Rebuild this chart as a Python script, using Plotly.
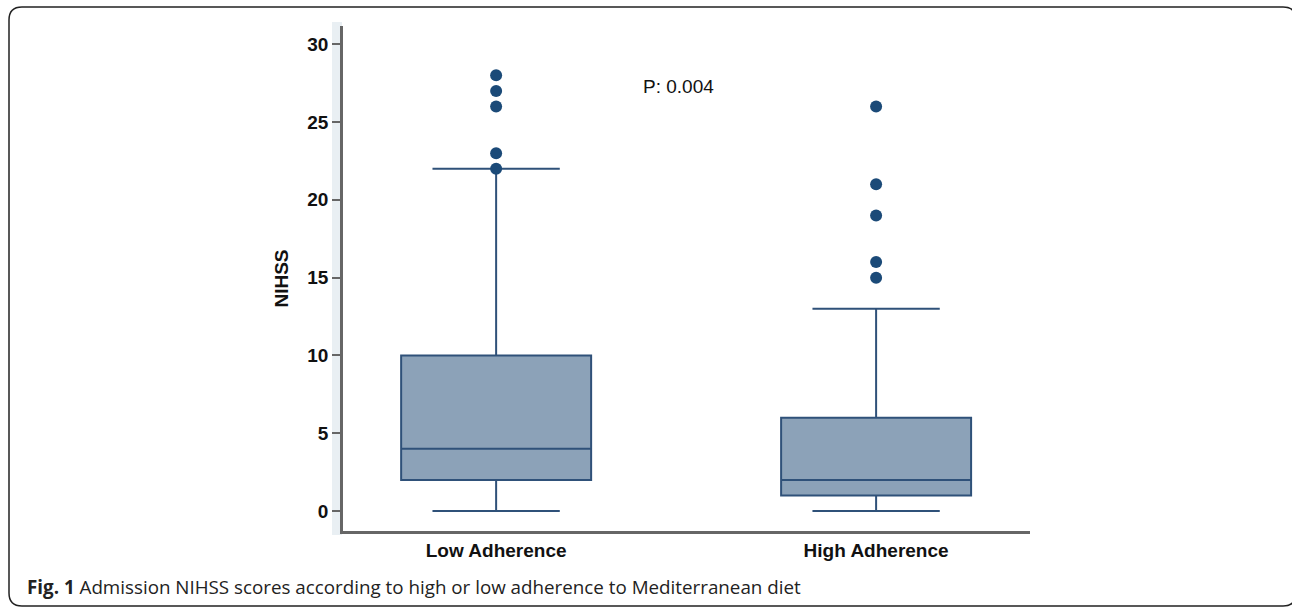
import plotly.graph_objects as go

# ---- data ----
groups = ["Low Adherence", "High Adherence"]
group_pos = [0, 1]
lower_fence = [0, 0]
q1 = [2, 1]
median = [4, 2]
q3 = [10, 6]
upper_fence = [22, 13]
outliers_low = [28, 27, 26, 23, 22]
outliers_high = [26, 21, 19, 16, 15]
y_ticks = [0, 5, 10, 15, 20, 25, 30]
p_label = "P: 0.004"
caption_bold = "Fig. 1"
caption_text = " Admission NIHSS scores according to high or low adherence to Mediterranean diet"

W, H = 1292, 607
L, R, T, B = 343, 1030, 26, 531


def px(x):
    return (x - L) / (R - L)


def py(y):
    return (B - y) / (B - T)


fig = go.Figure()
fig.add_trace(go.Box(
    x=group_pos, q1=q1, median=median, q3=q3,
    lowerfence=lower_fence, upperfence=upper_fence,
    width=0.5, whiskerwidth=0.67,
    fillcolor="rgba(120,146,172,0.85)",
    line=dict(color="#2f5179", width=2),
    boxpoints=False, showlegend=False, hoverinfo="skip",
))
ox = [group_pos[0]] * len(outliers_low) + [group_pos[1]] * len(outliers_high)
oy = outliers_low + outliers_high
fig.add_trace(go.Scatter(
    x=ox, y=oy, mode="markers",
    marker=dict(color="#1b4a78", size=12),
    showlegend=False, hoverinfo="skip",
))

fig.add_annotation(x=0.48, y=27.3, text=p_label, showarrow=False,
                   font=dict(family="Liberation Sans, Arial", size=19, color="#111"))

# rounded border
x0, x1, y0, y1, r = px(9), px(1296), py(7), py(606), 13
rx, ry = r / (R - L), r / (B - T)
path = (f"M {x0},{y0-ry} L {x0},{y1+ry} Q {x0},{y1} {x0+rx},{y1} "
        f"L {x1-rx},{y1} Q {x1},{y1} {x1},{y1+ry} L {x1},{y0-ry} "
        f"Q {x1},{y0} {x1-rx},{y0} L {x0+rx},{y0} Q {x0},{y0} {x0},{y0-ry} Z")
fig.add_shape(type="path", path=path, xref="paper", yref="paper",
              line=dict(color="#222", width=1.5), layer="below")
# light band left of y axis
fig.add_shape(type="rect", xref="paper", yref="paper",
              x0=px(332), x1=px(342), y0=py(535), y1=py(22),
              fillcolor="#e9eff3", line=dict(width=0), layer="below")

fig.add_annotation(xref="paper", yref="paper", x=px(25), y=py(587),
                   xanchor="left", yanchor="middle", showarrow=False,
                   text=f"<b>{caption_bold}</b>{caption_text}",
                   font=dict(family="Open Sans", size=18.8, color="#222"))

fig.update_layout(
    width=W, height=H, autosize=False,
    margin=dict(l=L, r=W - R, t=T, b=H - B),
    plot_bgcolor="white", paper_bgcolor="white",
    xaxis=dict(range=[-0.403, 1.405], tickvals=group_pos, ticktext=[f"<b>{g}</b>" for g in groups],
               showgrid=False, zeroline=False, showline=True, linecolor="#666", linewidth=2.5,
               ticks="", tickfont=dict(family="Liberation Sans, Arial", size=19, color="#111")),
    yaxis=dict(range=[-1.28, 31.17], tickvals=y_ticks, ticktext=[f"<b>{t}</b>" for t in y_ticks],
               showgrid=False, zeroline=False, showline=True, linecolor="#666", linewidth=2.5,
               ticks="outside", ticklen=8, tickwidth=2, tickcolor="#666",
               tickfont=dict(family="Liberation Sans, Arial", size=19, color="#111"),
               title=dict(text="<b>NIHSS</b>", standoff=14,
                          font=dict(family="Liberation Sans, Arial", size=19, color="#111"))),
)

fig.write_html("out.html", config={"displayModeBar": False},
               post_script="document.body.style.margin='0';document.body.style.padding='0';")
